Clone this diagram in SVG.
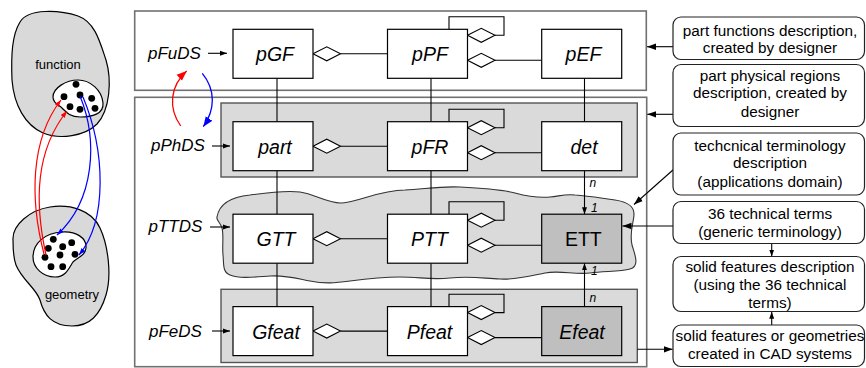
<svg xmlns="http://www.w3.org/2000/svg" width="866" height="368" viewBox="0 0 866 368">
<defs>
<style>
.node rect{fill:#fff;stroke:#000;stroke-width:1.2}
.node.dark rect{fill:#bfbfbf}
.nt{font-family:"Liberation Sans",Arial,sans-serif;font-size:19.5px;font-style:italic;text-anchor:middle;fill:#000}
.up{font-style:normal}
.lbl{font-family:"Liberation Sans",Arial,sans-serif;font-size:17px;font-style:italic;fill:#000}
.rt{font-family:"Liberation Sans",Arial,sans-serif;font-size:15.3px;text-anchor:middle;fill:#000}
.rb rect{fill:#fff;stroke:#222;stroke-width:1.2}
.outer{fill:#fff;stroke:#707070;stroke-width:1.6}
.pack{fill:#dadada;stroke:#555;stroke-width:1.4}
.ln{fill:none;stroke:#000;stroke-width:1.1}
.dia{fill:#fff;stroke:#000;stroke-width:1.1}
.mult{font-family:"Liberation Sans",Arial,sans-serif;font-size:12px;font-style:italic;fill:#000}
.blob{fill:#d9d9d9;stroke:#000;stroke-width:1.2}
.inner{fill:#fff;stroke:#000;stroke-width:1.2}
.bt{font-family:"Liberation Sans",Arial,sans-serif;font-size:13px;text-anchor:middle;fill:#000}
.red{fill:none;stroke:#ff0000;stroke-width:1.2}
.blue{fill:none;stroke:#0000ff;stroke-width:1.2}
</style>
<marker id="ah" markerUnits="userSpaceOnUse" markerWidth="8" markerHeight="6" refX="7" refY="3" orient="auto"><path d="M0,0.5 L7,3 L0,5.5 z" fill="#000"/></marker>
<marker id="ahb" markerUnits="userSpaceOnUse" markerWidth="10" markerHeight="8" refX="9" refY="4" orient="auto"><path d="M0,0.8 L9,4 L0,7.2 z" fill="#000"/></marker>
<marker id="ar" markerUnits="userSpaceOnUse" markerWidth="8" markerHeight="6" refX="7" refY="3" orient="auto"><path d="M0,0.5 L7,3 L0,5.5 z" fill="#ff0000"/></marker>
<marker id="ab" markerUnits="userSpaceOnUse" markerWidth="8" markerHeight="6" refX="7" refY="3" orient="auto"><path d="M0,0.5 L7,3 L0,5.5 z" fill="#0000ff"/></marker>
<marker id="arL" markerUnits="userSpaceOnUse" markerWidth="11" markerHeight="9" refX="10" refY="4.5" orient="auto"><path d="M0,0.5 L10,4.5 L0,8.5 z" fill="#ff0000"/></marker>
<marker id="abL" markerUnits="userSpaceOnUse" markerWidth="11" markerHeight="9" refX="10" refY="4.5" orient="auto"><path d="M0,0.5 L10,4.5 L0,8.5 z" fill="#0000ff"/></marker>
</defs>
<rect width="866" height="368" fill="#fff"/>

<!-- left illustration -->
<g id="function-blob">
<path class="blob" d="M20,22 C28,8 60,10 78,16 C95,22 100,42 106,60 C112,80 110,110 97,124 C85,136 60,140 43,133 C25,125 14,105 12,80 C11,55 12,35 20,22 Z"/>
<path class="inner" d="M53,97 C53,88 66,80 78,80 C90,80 102,90 103,103 C104,114 92,117 80,117 C70,117 66,112 62,108 C57,104 53,102 53,97 Z"/>
<g fill="#000"><circle cx="76" cy="84.3" r="3.4"/><circle cx="64" cy="96.7" r="3.4"/><circle cx="80" cy="95" r="3.4"/><circle cx="91.7" cy="98.3" r="3.4"/><circle cx="70" cy="106.7" r="3.4"/><circle cx="80" cy="109.3" r="3.4"/><circle cx="95" cy="108.3" r="3.4"/></g>
<text class="bt" x="58" y="68.5">function</text>
</g>
<g id="geometry-blob">
<path class="blob" d="M13,240 C12,225 30,210 50,207 C70,204 92,210 100,228 C108,245 112,275 106,295 C100,315 90,326 72,326 C52,326 44,315 40,300 C36,288 22,280 16,265 C13,257 13,248 13,240 Z"/>
<path class="inner" d="M33,257 C33,243 45,233 62,232 C76,231 87,238 86,248 C85,256 78,257 73,262 C69,268 66,277 55,277 C43,277 33,268 33,257 Z"/>
<g fill="#000"><circle cx="53.3" cy="239.3" r="3.4"/><circle cx="71.7" cy="242.7" r="3.4"/><circle cx="48.3" cy="248.3" r="3.4"/><circle cx="62.7" cy="246.7" r="3.4"/><circle cx="60" cy="255" r="3.4"/><circle cx="75" cy="254.3" r="3.4"/><circle cx="45" cy="257.3" r="3.4"/><circle cx="51" cy="266.7" r="3.4"/><circle cx="62.7" cy="266.7" r="3.4"/></g>
<text class="bt" x="72" y="299">geometry</text>
</g>

<!-- containers -->
<g id="pFuDS-layer">
<rect class="outer" x="134.7" y="11" width="511.6" height="79.3"/>
<text class="lbl" x="148" y="58.5">pFuDS</text>
</g>
<g id="lower-layers">
<rect class="outer" x="134.7" y="97.3" width="512" height="269.4"/>
</g>
<g id="pPhDS-layer">
<rect class="pack" x="221" y="103" width="416.3" height="74"/>
<text class="lbl" x="151" y="150.7">pPhDS</text>
</g>
<g id="pTTDS-layer">
<path class="pack" style="stroke:#333;stroke-width:1.1" d="M217,217 C219,205 230,197 250,195 C265,193 285,190 300,192 C315,194 328,204 342,203 C358,202 380,190 405,190 C425,189 440,186 460,187 C480,188 500,189 515,193 C530,197 540,198 550,197 C560,196 565,194 575,195 C590,196 600,198 615,200 C628,202 634,206 634,214 C634,222 629,232 632,245 C635,255 640,266 630,269 C620,272 605,271 590,273 C575,275 560,270 545,273 C530,276 515,280 500,279 C480,278 470,276 450,278 C430,280 420,277 400,277 C380,277 365,279 350,281 C335,283 325,284 310,281 C295,278 285,275 270,276 C255,277 240,279 230,275 C222,272 224,263 223,255 C222,245 224,236 222,228 C220,222 216,220 217,217 Z"/>
<text class="lbl" x="148.5" y="231.7">pTTDS</text>
</g>
<g id="pFeDS-layer">
<rect class="pack" x="221" y="289.3" width="416.3" height="73.2"/>
<text class="lbl" x="149" y="337">pFeDS</text>
</g>

<!-- connectors -->
<g id="connectors">
<path class="red" d="M44,254 C30,200 30,140 61,100" marker-end="url(#ar)"/>
<path class="red" d="M46,255 C34,200 36,150 67,111" marker-end="url(#ar)"/>
<path class="blue" d="M80,96 C98,140 95,200 57,235" marker-end="url(#ab)"/>
<path class="blue" d="M83,97 C105,150 108,220 79,255" marker-end="url(#ab)"/>
<path class="red" style="stroke-width:1.3" d="M180.7,126 C168,108 170,86 186.7,71" marker-end="url(#arL)"/>
<path class="blue" style="stroke-width:1.3" d="M202.3,73.3 C216,90 215,110 203.3,126.7" marker-end="url(#abL)"/>

<line class="ln" x1="208" y1="53.3" x2="227" y2="53.3" marker-end="url(#ah)"/>
<line class="ln" x1="212" y1="146" x2="230" y2="146" marker-end="url(#ah)"/>
<line class="ln" x1="210" y1="227" x2="230" y2="227" marker-end="url(#ah)"/>
<line class="ln" x1="212" y1="331" x2="230" y2="331" marker-end="url(#ah)"/>

<!-- vertical -->
<line class="ln" x1="277" y1="78.3" x2="277" y2="121.7"/>
<line class="ln" x1="277" y1="170.7" x2="277" y2="214.2"/>
<line class="ln" x1="277" y1="263.2" x2="277" y2="306.6"/>
<line class="ln" x1="431" y1="78.3" x2="431" y2="121.7"/>
<line class="ln" x1="431" y1="170.7" x2="431" y2="214.2"/>
<line class="ln" x1="431" y1="263.2" x2="431" y2="306.6"/>
<line class="ln" x1="584.5" y1="78.3" x2="584.5" y2="121.7"/>
<line class="ln" x1="584.5" y1="170.7" x2="584.5" y2="214.2" marker-end="url(#ah)"/>
<line class="ln" x1="584.5" y1="306.6" x2="584.5" y2="263.2" marker-end="url(#ah)"/>
<text class="mult" x="589.5" y="186.5">n</text>
<text class="mult" x="591" y="211.5">1</text>
<text class="mult" x="591" y="274.5">1</text>
<text class="mult" x="589.5" y="302">n</text>

<!-- row 1 -->
<line class="ln" x1="340.5" y1="53.8" x2="387.5" y2="53.8"/>
<path class="dia" d="M313,53.8 l13.75,-7 l13.75,7 l-13.75,7 z"/>
<polyline class="ln" points="449,29.3 449,16.7 504,16.7 504,35.3 495,35.3"/>
<path class="dia" d="M467.5,35.3 l13.75,-7 l13.75,7 l-13.75,7 z"/>
<line class="ln" x1="495" y1="60.3" x2="541.7" y2="60.3"/>
<path class="dia" d="M467.5,60.3 l13.75,-7 l13.75,7 l-13.75,7 z"/>
<!-- row 2 -->
<line class="ln" x1="340.5" y1="146.2" x2="387.5" y2="146.2"/>
<path class="dia" d="M313,146.2 l13.75,-7 l13.75,7 l-13.75,7 z"/>
<polyline class="ln" points="449,121.7 449,109.3 504,109.3 504,127.7 495,127.7"/>
<path class="dia" d="M467.5,127.7 l13.75,-7 l13.75,7 l-13.75,7 z"/>
<line class="ln" x1="495" y1="152.7" x2="541.7" y2="152.7"/>
<path class="dia" d="M467.5,152.7 l13.75,-7 l13.75,7 l-13.75,7 z"/>
<!-- row 3 -->
<line class="ln" x1="340.5" y1="238.7" x2="387.5" y2="238.7"/>
<path class="dia" d="M313,238.7 l13.75,-7 l13.75,7 l-13.75,7 z"/>
<polyline class="ln" points="449,214.2 449,201.7 504,201.7 504,220.2 495,220.2"/>
<path class="dia" d="M467.5,220.2 l13.75,-7 l13.75,7 l-13.75,7 z"/>
<line class="ln" x1="495" y1="245.2" x2="541.7" y2="245.2"/>
<path class="dia" d="M467.5,245.2 l13.75,-7 l13.75,7 l-13.75,7 z"/>
<!-- row 4 -->
<line class="ln" x1="340.5" y1="331.1" x2="387.5" y2="331.1"/>
<path class="dia" d="M313,331.1 l13.75,-7 l13.75,7 l-13.75,7 z"/>
<polyline class="ln" points="449,306.6 449,294.3 504,294.3 504,312.6 495,312.6"/>
<path class="dia" d="M467.5,312.6 l13.75,-7 l13.75,7 l-13.75,7 z"/>
<line class="ln" x1="495" y1="337.6" x2="541.7" y2="337.6"/>
<path class="dia" d="M467.5,337.6 l13.75,-7 l13.75,7 l-13.75,7 z"/>

<!-- right side -->
<line class="ln" x1="673" y1="46.7" x2="647" y2="46.7" marker-end="url(#ahb)"/>
<line class="ln" x1="673" y1="114.3" x2="647.3" y2="114.3" marker-end="url(#ahb)"/>
<line class="ln" x1="673.5" y1="169.5" x2="634" y2="204.5" marker-end="url(#ahb)"/>
<line class="ln" x1="673" y1="226" x2="622.5" y2="226" marker-end="url(#ahb)"/>
<line class="ln" x1="771.7" y1="243.3" x2="771.7" y2="256.5" marker-end="url(#ah)"/>
<line class="ln" x1="771.7" y1="325" x2="771.7" y2="311.7" marker-end="url(#ah)"/>
<line class="ln" x1="637.3" y1="349.3" x2="672.7" y2="349.3" marker-end="url(#ahb)"/>
</g>

<!-- nodes -->
<g id="pGF" class="node"><rect x="233" y="29.3" width="80" height="49"/><text class="nt" x="275" y="61.3">pGF</text></g>
<g id="pPF" class="node"><rect x="387.5" y="29.3" width="80" height="49"/><text class="nt" x="430" y="61.3">pPF</text></g>
<g id="pEF" class="node"><rect x="541.7" y="29.3" width="80" height="49"/><text class="nt" x="583.5" y="61.3">pEF</text></g>
<g id="part" class="node"><rect x="233" y="121.7" width="80" height="49"/><text class="nt" x="275" y="153.7">part</text></g>
<g id="pFR" class="node"><rect x="387.5" y="121.7" width="80" height="49"/><text class="nt" x="430" y="153.7">pFR</text></g>
<g id="det" class="node"><rect x="541.7" y="121.7" width="80" height="49"/><text class="nt" x="584" y="153.7">det</text></g>
<g id="GTT" class="node"><rect x="233" y="214.2" width="80" height="49"/><text class="nt" x="276" y="246.2">GTT</text></g>
<g id="PTT" class="node"><rect x="387.5" y="214.2" width="80" height="49"/><text class="nt" x="429.5" y="246.2">PTT</text></g>
<g id="ETT" class="node dark"><rect x="541.7" y="214.2" width="80" height="49"/><text class="nt up" x="583.3" y="246.2">ETT</text></g>
<g id="Gfeat" class="node"><rect x="233" y="306.6" width="80" height="49"/><text class="nt" x="276" y="338.6">Gfeat</text></g>
<g id="Pfeat" class="node"><rect x="387.5" y="306.6" width="80" height="49"/><text class="nt" x="429.5" y="338.6">Pfeat</text></g>
<g id="Efeat" class="node dark"><rect x="541.7" y="306.6" width="80" height="49"/><text class="nt" x="582" y="338.6">Efeat</text></g>

<!-- right description boxes -->
<g id="desc-functions" class="rb"><rect x="673" y="17" width="191.5" height="42.5" rx="8"/><text class="rt" x="770" y="36">part functions description,</text><text class="rt" x="770" y="53.3">created by designer</text></g>
<g id="desc-physical" class="rb"><rect x="673" y="64.5" width="191.5" height="62" rx="8"/><text class="rt" x="770" y="81">part physical regions</text><text class="rt" x="770" y="98.3">description, created by</text><text class="rt" x="770" y="116.5">designer</text></g>
<g id="desc-terminology" class="rb"><rect x="673" y="133" width="191.5" height="62" rx="8"/><text class="rt" x="770" y="151">techcnical terminology</text><text class="rt" x="770" y="168.3">description</text><text class="rt" x="770" y="186.5">(applications domain)</text></g>
<g id="desc-36terms" class="rb"><rect x="673" y="201.5" width="191.5" height="42" rx="8"/><text class="rt" x="770" y="219">36 technical terms</text><text class="rt" x="770" y="237">(generic terminology)</text></g>
<g id="desc-solid" class="rb"><rect x="673" y="256.5" width="191.5" height="55" rx="8"/><text class="rt" x="770" y="271.5">solid features description</text><text class="rt" x="770" y="289.5">(using the 36 technical</text><text class="rt" x="770" y="307.5">terms)</text></g>
<g id="desc-cad" class="rb"><rect x="673" y="325" width="191.5" height="41.5" rx="8"/><text class="rt" x="770" y="340.7">solid features or geometries</text><text class="rt" x="770" y="359">created in CAD systems</text></g>
</svg>
